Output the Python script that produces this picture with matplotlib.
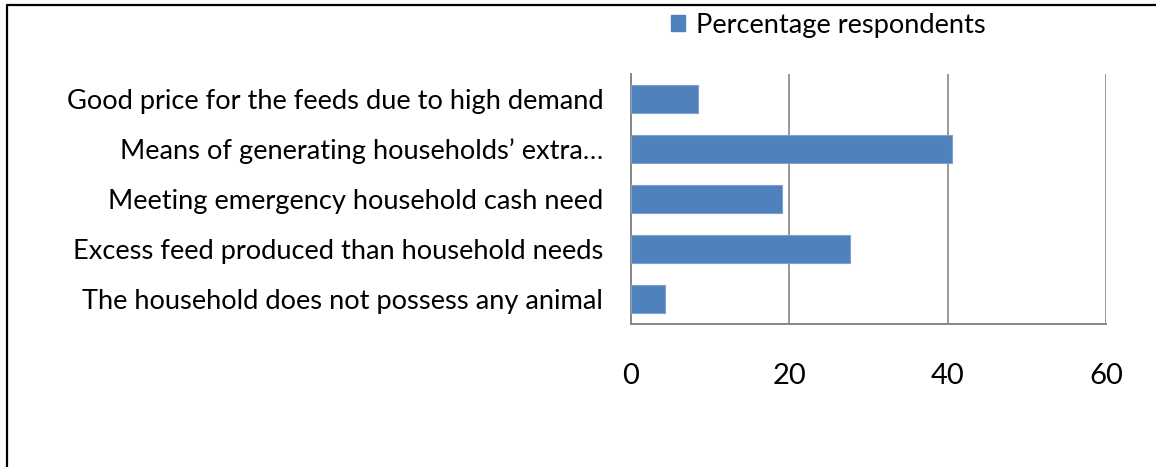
import matplotlib
matplotlib.use("Agg")
import matplotlib.pyplot as plt
from matplotlib.lines import Line2D
from matplotlib.patches import Patch

categories = [
    "Good price for the feeds due to high demand",
    "Means of generating households\u2019 extra\u2026",
    "Meeting emergency household cash need",
    "Excess feed produced than household needs",
    "The household does not possess any animal",
]
values = [8.5, 40.5, 19.1, 27.7, 4.3]
x_ticks = [0, 20, 40, 60]
series_name = "Percentage respondents"

W, H, DPI = 1156, 467, 100
plt.rcParams["font.family"] = ["Lato", "DejaVu Sans"]

fig = plt.figure(figsize=(W / DPI, H / DPI), dpi=DPI)
ax = fig.add_axes([631 / W, 1 - 324 / H, (1106 - 631) / W, (324 - 74) / H])

bar_color = "#4F81BD"
grid_color = "#868686"

pos = list(range(len(categories)))[::-1]
ax.barh(pos, values, height=0.56, color=bar_color, edgecolor="#7EA2CF",
        linewidth=0.8, zorder=3)

ax.set_xlim(0, 60)
ax.set_ylim(-0.5, len(categories) - 0.5)
ax.set_xticks(x_ticks)
ax.set_xticklabels([str(t) for t in x_ticks])
ax.set_yticks(pos)
ax.set_yticklabels(categories)
ax.tick_params(axis="x", length=0, pad=28, labelsize=21)
ax.tick_params(axis="y", length=0, pad=20, labelsize=19.6)

ax.xaxis.grid(True, color=grid_color, linewidth=1.2, zorder=0)
for side in ("top", "right"):
    ax.spines[side].set_visible(False)
for side in ("left", "bottom"):
    ax.spines[side].set_color(grid_color)
    ax.spines[side].set_linewidth(1.4)

handle = Patch(facecolor=bar_color, edgecolor=bar_color)
fig.legend([handle], [series_name], loc="center left",
           bbox_to_anchor=(671 / W, 1 - 25 / H), frameon=False,
           fontsize=19.6, handlelength=0.5, handleheight=0.5,
           handletextpad=0.4, borderaxespad=0, borderpad=0)

# outer frame along the top and left edges
fig.add_artist(Line2D([7 / W, 7 / W, 1.0], [0.0, 1 - 5 / H, 1 - 5 / H],
                      transform=fig.transFigure, color="black", linewidth=1.6))

fig.savefig("out.png", dpi=DPI, facecolor="white")
